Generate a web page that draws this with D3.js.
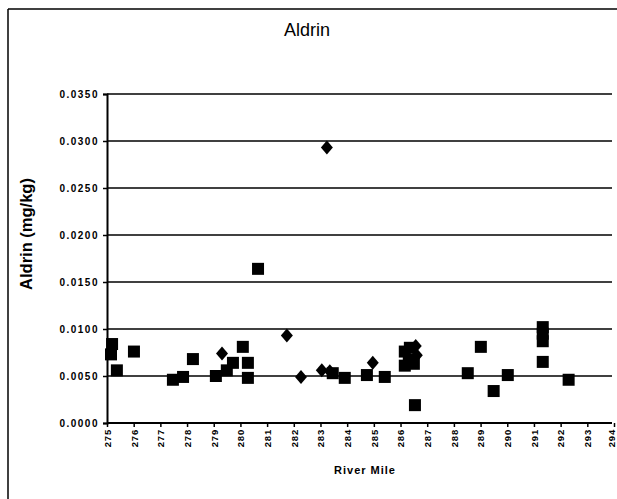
<!DOCTYPE html>
<html><head><meta charset="utf-8">
<script src="https://cdn.jsdelivr.net/npm/d3@7"></script>
<style>body{margin:0;background:#fff}svg{display:block}</style>
</head><body>
<script>
const title = "Aldrin";
const yTitle = "Aldrin (mg/kg)";
const xTitle = "River Mile";
const xTicks = [275,276,277,278,279,280,281,282,283,284,285,286,287,288,289,290,291,292,293,294];
const yTicks = [0,0.005,0.01,0.015,0.02,0.025,0.03,0.035];

// Square series (river mile, mg/kg)
const squareMile = [275.19,275.15,275.37,276.01,277.47,277.85,278.22,279.08,279.49,279.72,280.09,280.28,280.28,280.66,283.46,283.91,284.74,285.41,286.16,286.31,286.16,286.50,286.35,286.54,288.52,289.01,289.49,290.02,291.33,291.33,291.33,291.33,292.30];
const squareVal  = [0.0084,0.0073,0.0056,0.0076,0.0046,0.0049,0.0068,0.0050,0.0056,0.0064,0.0081,0.0064,0.0048,0.0164,0.0053,0.0048,0.0051,0.0049,0.0076,0.0067,0.0061,0.0063,0.0080,0.0019,0.0053,0.0081,0.0034,0.0051,0.0102,0.0095,0.0087,0.0065,0.0046];
// Diamond series
const diamondMile = [279.31,281.74,282.27,283.05,283.35,283.24,284.96,286.57,286.61,286.35];
const diamondVal  = [0.0074,0.0093,0.0049,0.0056,0.0055,0.0293,0.0064,0.0082,0.0072,0.0065];

const W = 617, H = 499;
const svg = d3.select("body").append("svg").attr("width", W).attr("height", H);
svg.append("rect").attr("width", W).attr("height", H).attr("fill", "#fff");

// outer frame
svg.append("line").attr("x1",8).attr("x2",8).attr("y1",9).attr("y2",H).attr("stroke","#000").attr("stroke-width",1.5);
svg.append("line").attr("x1",8).attr("x2",W).attr("y1",9).attr("y2",9).attr("stroke","#000").attr("stroke-width",1.5);

const x = d3.scaleLinear().domain([275, 294]).range([107, 614]);
const y = d3.scaleLinear().domain([0, 0.035]).range([423, 94]);

// gridlines
svg.append("g").selectAll("line").data(yTicks).join("line")
  .attr("x1", 107).attr("x2", 612)
  .attr("y1", d => y(d)).attr("y2", d => y(d))
  .attr("stroke", "#000").attr("stroke-width", 1.6);

// y axis
const yAxis = d3.axisLeft(y).tickValues(yTicks).tickFormat(d3.format(".4f")).tickSize(4).tickPadding(4);
const gy = svg.append("g").attr("transform", "translate(107,0)").call(yAxis);
gy.select(".domain").attr("stroke-width", 2);
gy.selectAll(".tick line").attr("stroke-width", 1.5);
gy.selectAll("text").attr("font-family", "Liberation Sans, Arial, sans-serif")
  .attr("font-size", 10).attr("font-weight", "bold").attr("letter-spacing", "1.5px").attr("fill", "#000");

// x axis
const xAxis = d3.axisBottom(x).tickValues(xTicks).tickFormat(d3.format("d")).tickSize(4).tickSizeOuter(0);
const gx = svg.append("g").attr("transform", "translate(0,423)").call(xAxis);
gx.select(".domain").attr("stroke-width", 2).attr("d", "M107,0H612");
gx.selectAll(".tick line").attr("stroke-width", 1.5);
gx.selectAll("text")
  .attr("font-family", "Liberation Sans, Arial, sans-serif")
  .attr("font-size", 9.5).attr("font-weight", "bold").attr("letter-spacing", "0.8px").attr("fill", "#000")
  .attr("text-anchor", "end").attr("transform", "rotate(-90)")
  .attr("x", -6).attr("y", d => d === 294 ? -3 : 0).attr("dy", "0.35em");

// squares
const sq = 12;
svg.append("g").selectAll("rect").data(squareMile.map((m, i) => [m, squareVal[i]])).join("rect")
  .attr("x", d => x(d[0]) - sq / 2).attr("y", d => y(d[1]) - sq / 2)
  .attr("width", sq).attr("height", sq).attr("fill", "#000");

// diamonds
const dw = 6, dh = 7;
svg.append("g").selectAll("path").data(diamondMile.map((m, i) => [m, diamondVal[i]])).join("path")
  .attr("transform", d => `translate(${x(d[0])},${y(d[1])})`)
  .attr("d", `M0,${-dh}L${dw},0L0,${dh}L${-dw},0Z`).attr("fill", "#000");

// titles
svg.append("text").attr("x", 307).attr("y", 36).attr("text-anchor", "middle")
  .attr("font-family", "Liberation Sans, Arial, sans-serif").attr("font-size", 18).text(title);
svg.append("text").attr("transform", "translate(32,234) rotate(-90)").attr("text-anchor", "middle")
  .attr("font-family", "Liberation Sans, Arial, sans-serif").attr("font-size", 16.5).attr("font-weight", "bold").text(yTitle);
svg.append("text").attr("x", 365).attr("y", 474).attr("text-anchor", "middle")
  .attr("font-family", "Liberation Sans, Arial, sans-serif").attr("font-size", 11).attr("font-weight", "bold")
  .attr("letter-spacing", "1px").text(xTitle);
</script>
</body></html>
